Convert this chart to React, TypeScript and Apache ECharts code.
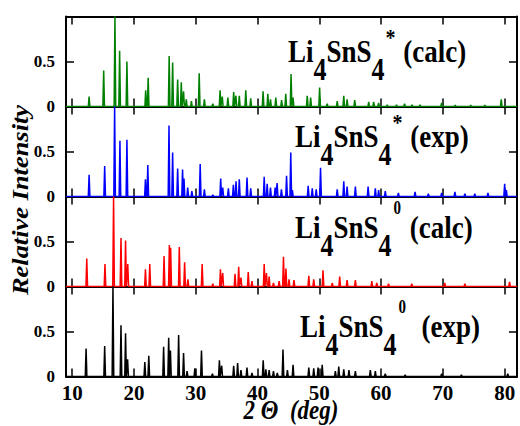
import React, { useEffect, useRef } from 'react';
import * as echarts from 'echarts';

// ---- axis ticks ----
const xTicks = [10, 20, 30, 40, 50, 60, 70, 80];
const yTickValues = [0, 0.5, 1];
const yTickLabels = ['0', '0.5', ''];

// ---- peak lists: [2θ (deg), relative intensity] ----
const calcStar: [number, number][] = [
  [12.74, 0.11], [15.1, 0.4], [16.92, 1.0], [17.68, 0.62], [18.86, 0.5], [21.9, 0.18], [22.3, 0.32],
  [25.7, 0.56], [26.26, 0.49], [27.07, 0.3], [27.66, 0.27], [28.03, 0.17], [28.47, 0.08], [29.3, 0.06],
  [30.56, 0.37], [31.4, 0.08], [32.76, 0.03], [33.94, 0.18], [34.3, 0.11], [35.2, 0.1], [36.14, 0.16],
  [36.5, 0.12], [37.05, 0.12], [38.1, 0.18], [38.9, 0.09], [40.9, 0.17], [41.67, 0.14], [42.1, 0.08],
  [42.96, 0.1], [43.9, 0.07], [44.57, 0.14], [45.43, 0.36], [45.75, 0.1], [48.05, 0.12], [48.6, 0.1],
  [50.05, 0.21], [51.28, 0.03], [52.9, 0.06], [53.96, 0.12], [54.5, 0.08], [55.73, 0.07], [58.0, 0.05],
  [58.8, 0.05], [59.6, 0.04], [61.0, 0.02], [62.5, 0.02], [63.8, 0.03], [65.0, 0.02], [66.3, 0.02],
  [69.8, 0.04], [72.0, 0.015], [74.5, 0.015], [76.8, 0.015], [79.45, 0.08],
];
const expStar: [number, number][] = [
  [12.74, 0.24], [15.26, 0.34], [16.87, 1.0], [17.73, 0.62], [18.86, 0.63], [21.86, 0.19], [22.24, 0.35],
  [25.67, 0.79], [26.26, 0.49], [27.07, 0.31], [27.87, 0.3], [28.1, 0.2], [28.7, 0.1], [29.37, 0.06],
  [30.72, 0.36], [31.4, 0.08], [32.76, 0.02], [34.04, 0.2], [34.37, 0.1], [35.28, 0.09], [36.09, 0.13],
  [36.52, 0.17], [37.05, 0.19], [38.3, 0.21], [38.9, 0.09], [41.08, 0.22], [41.56, 0.14], [42.1, 0.1],
  [42.85, 0.1], [43.17, 0.15], [43.87, 0.08], [44.7, 0.23], [45.38, 0.49], [45.64, 0.07], [48.2, 0.12],
  [48.86, 0.09], [49.5, 0.08], [50.2, 0.32], [52.9, 0.08], [53.96, 0.17], [54.5, 0.11], [55.84, 0.11],
  [57.9, 0.11], [59.07, 0.09], [59.6, 0.07], [60.68, 0.06], [62.8, 0.04], [65.5, 0.05], [67.65, 0.03],
  [69.8, 0.04], [71.95, 0.05], [73.56, 0.03], [75.17, 0.03], [77.3, 0.04], [80.0, 0.14], [80.28, 0.07],
];
const calcZero: [number, number][] = [
  [12.36, 0.31], [15.31, 0.25], [16.7, 1.0], [17.9, 0.54], [18.64, 0.51], [19.0, 0.25], [21.86, 0.19],
  [22.56, 0.25], [24.87, 0.34], [25.73, 0.46], [25.94, 0.43], [27.34, 0.44], [28.2, 0.27], [28.73, 0.08],
  [31.04, 0.25], [32.76, 0.03], [34.0, 0.19], [34.37, 0.15], [36.36, 0.14], [36.95, 0.22], [37.32, 0.1],
  [38.5, 0.16], [39.1, 0.06], [41.08, 0.25], [41.45, 0.15], [41.88, 0.11], [42.58, 0.04], [43.5, 0.06],
  [44.2, 0.33], [44.6, 0.2], [45.1, 0.08], [45.9, 0.07], [48.3, 0.12], [49.1, 0.08], [50.6, 0.18],
  [52.1, 0.04], [53.3, 0.11], [54.5, 0.07], [55.84, 0.07], [58.5, 0.06], [59.3, 0.04], [61.2, 0.03],
  [64.96, 0.03], [70.3, 0.04], [73.56, 0.03], [80.8, 0.05],
];
const expZero: [number, number][] = [
  [12.25, 0.31], [15.26, 0.34], [16.6, 1.0], [17.9, 0.57], [18.64, 0.48], [18.97, 0.19], [21.76, 0.16],
  [22.4, 0.23], [24.8, 0.33], [25.62, 0.43], [25.9, 0.29], [27.23, 0.46], [28.03, 0.26], [28.6, 0.06],
  [29.86, 0.09], [30.93, 0.29], [32.7, 0.03], [33.83, 0.18], [34.2, 0.12], [36.14, 0.12], [36.78, 0.15],
  [37.32, 0.07], [38.29, 0.1], [39.1, 0.04], [40.92, 0.18], [41.35, 0.08], [41.88, 0.07], [42.58, 0.06],
  [43.2, 0.04], [44.12, 0.3], [44.84, 0.07], [45.75, 0.13], [48.3, 0.1], [49.1, 0.09], [49.8, 0.1],
  [50.47, 0.13], [52.6, 0.06], [53.15, 0.11], [53.96, 0.08], [54.8, 0.07], [55.84, 0.06], [58.26, 0.07],
  [59.07, 0.06], [60.68, 0.03], [63.9, 0.02], [69.8, 0.03], [73.0, 0.02], [80.5, 0.03],
];

const patterns = [calcStar, expStar, calcZero, expZero];
const patternColors = ['#008000', '#0000ff', '#ff0000', '#000000'];
const labelSuper = ['*', '*', '0', '0'];
const labelTail = [' (calc)', ' (exp)', ' (calc)', '  (exp)'];

const X_MIN = 9;
const X_MAX = 82;
const HALF_WIDTH = 0.13;
const FONT = 'Liberation Serif';

function peaksToLine(peaks: [number, number][]): number[][] {
  const sorted = [...peaks].sort((a, b) => a[0] - b[0]);
  const out: number[][] = [[X_MIN, 0]];
  for (const [p, h] of sorted) {
    const left = p - HALF_WIDTH;
    const last = out[out.length - 1];
    if (last[1] === 0 && last[0] > left) {
      last[0] = (last[0] + left) / 2;
    } else {
      out.push([left, 0]);
    }
    out.push([p, h]);
    out.push([p + HALF_WIDTH, 0]);
  }
  out.push([X_MAX, 0]);
  return out;
}

const GRID_LEFT = 66;
const GRID_RIGHT = 3;
const GRID_TOP = 16.5;
const GRID_H = 90;

const labelPos = [
  { x: 288, y: 51 },
  { x: 295, y: 136 },
  { x: 295, y: 227 },
  { x: 300, y: 326 },
];

export default function App() {
  const ref = useRef<HTMLDivElement>(null);
  useEffect(() => {
    if (!ref.current) return;
    const chart = echarts.init(ref.current, undefined, { renderer: 'svg' });

    const grids: any[] = [];
    const xAxes: any[] = [];
    const yAxes: any[] = [];
    const series: any[] = [];
    const axisLine = { show: true, onZero: false, lineStyle: { color: '#000', width: 2 } };
    const tick = { show: true, inside: true, length: 8, lineStyle: { color: '#000', width: 1.5 } };

    patterns.forEach((peaks, i) => {
      grids.push({ left: GRID_LEFT, right: GRID_RIGHT, top: GRID_TOP + i * GRID_H, height: GRID_H, containLabel: false });
      const isLast = i === patterns.length - 1;
      ['bottom', 'top'].forEach((pos) => {
        xAxes.push({
          gridIndex: i, type: 'value', position: pos, min: X_MIN, max: X_MAX,
          axisLine, splitLine: { show: false },
          axisTick: { ...tick, customValues: xTicks },
          axisLabel: {
            show: isLast && pos === 'bottom', customValues: xTicks, margin: 6,
            fontSize: 21, fontWeight: 'bold', fontFamily: FONT, color: '#000',
          },
        });
      });
      ['left', 'right'].forEach((pos) => {
        yAxes.push({
          gridIndex: i, type: 'value', position: pos, min: 0, max: 1, interval: 0.5,
          axisLine, splitLine: { show: false },
          axisTick: tick,
          axisLabel: {
            show: pos === 'left', margin: 11,
            fontSize: 17, fontWeight: 'bold', fontFamily: FONT, color: '#000',
            formatter: (v: number) => yTickLabels[yTickValues.indexOf(v)] ?? '',
          },
        });
      });
      series.push({
        type: 'line', xAxisIndex: i * 2, yAxisIndex: i * 2,
        data: peaksToLine(peaks), showSymbol: false, symbol: 'none', silent: true,
        lineStyle: { color: patternColors[i], width: 1.5 }, itemStyle: { color: patternColors[i] },
        clip: true, z: 1,
      });
    });

    const richBase = { fontSize: 27, fontWeight: 'bold', fontFamily: FONT, fill: '#000' };
    const graphics: any[] = patterns.map((_, i) => ({
      type: 'text', x: labelPos[i].x, y: labelPos[i].y, scaleY: 1.2, z: 10,
      style: {
        text: `{b|Li}{s|4}{b|SnS}{s|4}{${labelSuper[i] === '*' ? 'a' : 'o'}|${labelSuper[i]}}{b|${labelTail[i]}}`,
        align: 'left', verticalAlign: 'middle',
        fontSize: 27, fontWeight: 'bold', fontFamily: FONT, fill: '#000',
        rich: {
          b: richBase,
          s: { ...richBase, fontSize: 26, padding: [31, 0, 0, 0] },
          a: { ...richBase, fontSize: 20, padding: [0, 1, 23, 1] },
          o: { ...richBase, fontSize: 15, padding: [0, 2, 31, 2] },
        },
      },
    }));
    graphics.push({
      type: 'text', x: 20, y: 200, rotation: Math.PI / 2, scaleX: 1.15,
      style: {
        text: 'Relative Intensity', align: 'center', verticalAlign: 'middle',
        fontSize: 23, fontWeight: 'bold', fontStyle: 'italic', fontFamily: FONT, fill: '#000',
      },
    });
    graphics.push({
      type: 'text', x: 291, y: 410, scaleY: 1.15,
      style: {
        text: '2 Θ  (deg)', align: 'center', verticalAlign: 'middle',
        fontSize: 23, fontWeight: 'bold', fontStyle: 'italic', fontFamily: FONT, fill: '#000',
      },
    });

    chart.setOption({
      animation: false,
      backgroundColor: '#fff',
      grid: grids,
      xAxis: xAxes,
      yAxis: yAxes,
      series,
      graphic: graphics,
    });
    return () => chart.dispose();
  }, []);
  return <div ref={ref} style={{ position: 'absolute', left: 0, top: 0, width: 520, height: 426 }} />;
}
